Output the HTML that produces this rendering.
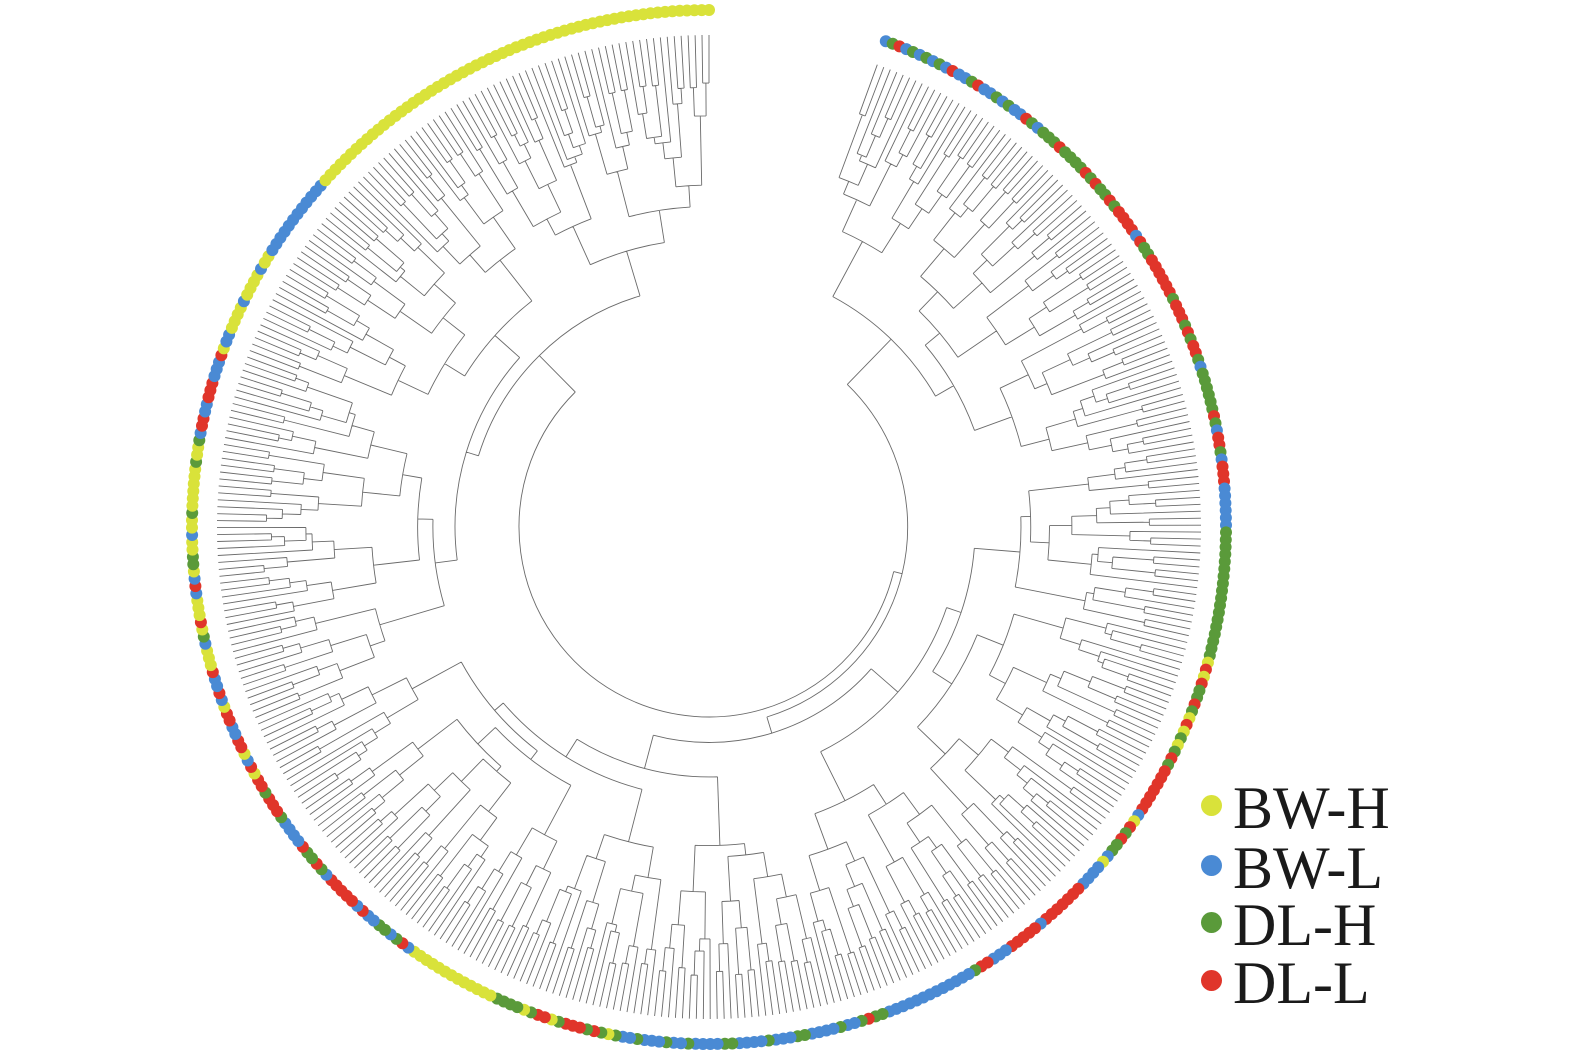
<!DOCTYPE html>
<html><head><meta charset="utf-8">
<style>
html,body{margin:0;padding:0;background:#fff;width:1575px;height:1060px;overflow:hidden}
.lg{position:absolute;font-family:"Liberation Serif",serif;font-size:60px;color:#1a1a1a;left:1233px;line-height:1}
.d{position:absolute;width:21px;height:21px;border-radius:50%;left:1201px}
</style></head><body>
<svg id="s" width="1575" height="1060" style="position:absolute;left:0;top:0"></svg>
<div class="d" style="top:795px;background:#d9e23a"></div><div class="lg" style="top:778px">BW-H</div>
<div class="d" style="top:855px;background:#4a8ad4"></div><div class="lg" style="top:838px">BW-L</div>
<div class="d" style="top:912px;background:#5a9a3a"></div><div class="lg" style="top:895px">DL-H</div>
<div class="d" style="top:970px;background:#e0352a"></div><div class="lg" style="top:953px">DL-L</div>
<script>
var seed=12345;function rnd(){seed=(seed*16807)%2147483647;return (seed-1)/2147483646;}
var cx=709,cy=527,RD=517,RL=492,R0=190;
var C={y:"#d9e23a",b:"#4a8ad4",g:"#5a9a3a",r:"#e0352a"};
var segs=[[-70,-45,{g:.4,b:.35,r:.25}],[-45,-5,{r:.5,g:.4,b:.1}],[-5,0,{b:1}],[0,15,{g:1}],[15,30,{g:.6,r:.3,y:.1}],[30,55,{r:.6,g:.2,b:.15,y:.05}],[55,70,{b:.8,r:.1,g:.1}],[70,100,{b:.8,g:.15,r:.05}],[100,115,{r:.5,g:.3,y:.2}],[115,125,{y:1}],[125,150,{r:.4,g:.3,b:.3}],[150,165,{b:.5,r:.3,y:.2}],[165,190,{y:.5,g:.3,r:.1,b:.1}],[190,200,{b:.5,r:.5}],[200,212,{y:.7,b:.3}],[212,222,{b:1}],[222,270,{y:1}]];
function col(a){for(var i=0;i<segs.length;i++){var s=segs[i];if(a>=s[0]&&a<=s[1]){var x=rnd(),acc=0;for(var k in s[2]){acc+=s[2][k];if(x<=acc)return C[k];}return C[Object.keys(s[2])[0]];}}return C.y;}
var N=420,a0=-70,a1=270;
var ang=[];for(var i=0;i<N;i++)ang.push(a0+(a1-a0)*i/(N-1));
function P(a,r){var t=a*Math.PI/180;return [cx+r*Math.cos(t),cy+r*Math.sin(t)];}
var out=[];
function build(lo,hi){
 if(hi-lo==1)return {a:ang[lo],r:RL};
 var n=hi-lo;var sp=lo+1+Math.floor(rnd()*(n-1));
 if(n>6){sp=lo+Math.max(1,Math.min(n-1,Math.round(n*(0.25+0.5*rnd()))));}
 var c1=build(lo,sp),c2=build(sp,hi);
 var r=RL-300*Math.pow(Math.log(n)/Math.log(N),0.9)-rnd()*12;
 r=Math.min(r,Math.min(c1.r,c2.r)-6);
 if(r<R0)r=R0;
 var na=(c1.a+c2.a)/2;
 [c1,c2].forEach(function(c){var p=P(c.a,r),q=P(c.a,c.r);out.push('M'+p[0].toFixed(1)+' '+p[1].toFixed(1)+'L'+q[0].toFixed(1)+' '+q[1].toFixed(1));});
 var p=P(c1.a,r),q=P(c2.a,r);var large=(c2.a-c1.a)>180?1:0;
 out.push('M'+p[0].toFixed(1)+' '+p[1].toFixed(1)+'A'+r.toFixed(1)+' '+r.toFixed(1)+' 0 '+large+' 1 '+q[0].toFixed(1)+' '+q[1].toFixed(1));
 return {a:na,r:r};
}
build(0,N);
var h='<path d="'+out.join('')+'" fill="none" stroke="#6a6a6a" stroke-width="0.9"/>';
for(var i=0;i<N;i++){var p=P(ang[i],RD);h+='<circle cx="'+p[0].toFixed(1)+'" cy="'+p[1].toFixed(1)+'" r="6" fill="'+col(ang[i])+'"/>';}
document.getElementById('s').innerHTML=h;
</script>
</body></html>
